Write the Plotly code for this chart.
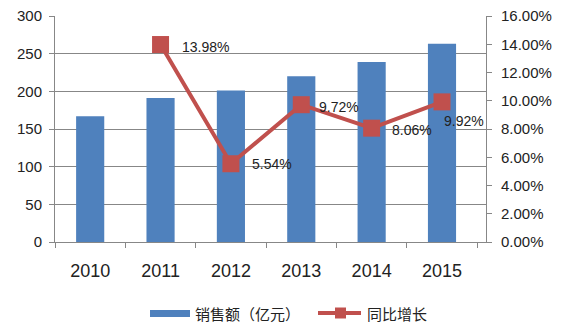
import plotly.graph_objects as go

# Annual sales (100M CNY) and year-on-year growth (%)
years = ["2010", "2011", "2012", "2013", "2014", "2015"]
sales = [167, 191, 201, 220, 239, 263]
growth_years = ["2011", "2012", "2013", "2014", "2015"]
growth = [13.98, 5.54, 9.72, 8.06, 9.92]
growth_labels = ["13.98%", "5.54%", "9.72%", "8.06%", "9.92%"]

left_ticks = [0, 50, 100, 150, 200, 250, 300]
right_ticks = [0, 2, 4, 6, 8, 10, 12, 14, 16]
right_tick_text = [f"{v:.2f}%" for v in right_ticks]

FONT = "Liberation Sans, Noto Sans CJK SC, sans-serif"
CJK = "Noto Sans CJK SC, sans-serif"
GRID = "#878787"
BLUE = "#4F81BD"
RED = "#C0504D"

W, H = 565, 327
ML, MR, MT, MB = 55, 79, 16, 85
PW, PH = W - ML - MR, H - MT - MB

# label offsets (pixels) relative to each growth marker
label_dx = [19, 19, 16, 18, 0]
label_dy = [-2, 0, -2, -2, -19]

fig = go.Figure()
fig.add_trace(go.Bar(
    x=years, y=sales, name="销售额（亿元）",
    marker=dict(color=BLUE, line=dict(width=0)),
    width=0.4,
))
fig.add_trace(go.Scatter(
    x=growth_years, y=growth, name="同比增长", yaxis="y2",
    mode="lines+markers",
    line=dict(color=RED, width=4),
    marker=dict(symbol="square", size=17, color=RED),
    cliponaxis=False,
))

# value labels; category axes take the category index for annotations
for yr, val, txt, dx, dy in zip(growth_years, growth, growth_labels, label_dx, label_dy):
    fig.add_annotation(
        x=years.index(yr), y=val, xref="x", yref="y2", text=txt, showarrow=False,
        xanchor="left", yanchor="middle", xshift=dx, yshift=dy,
        font=dict(size=14, color="#222222", family=FONT),
    )


def px_x(px):
    return (px - ML) / PW


def px_y(py):
    return (H - MB - py) / PH


# legend drawn below the plot
fig.add_shape(type="rect", xref="paper", yref="paper",
              x0=px_x(150), x1=px_x(190), y0=px_y(317), y1=px_y(310),
              fillcolor=BLUE, line=dict(width=0))
fig.add_annotation(x=px_x(193), y=px_y(313), xref="paper", yref="paper",
                   text="销售额（亿元）", showarrow=False, xanchor="left",
                   yanchor="middle", font=dict(size=15, family=CJK, color="#222222"))
fig.add_shape(type="line", xref="paper", yref="paper",
              x0=px_x(318), x1=px_x(361), y0=px_y(313), y1=px_y(313),
              line=dict(color=RED, width=4))
fig.add_shape(type="rect", xref="paper", yref="paper",
              x0=px_x(335), x1=px_x(346), y0=px_y(318.5), y1=px_y(307.5),
              fillcolor=RED, line=dict(width=0))
fig.add_annotation(x=px_x(365), y=px_y(313), xref="paper", yref="paper",
                   text="同比增长", showarrow=False, xanchor="left",
                   yanchor="middle", font=dict(size=15, family=CJK, color="#222222"))

fig.update_layout(
    width=W, height=H,
    margin=dict(l=ML, r=MR, t=MT, b=MB, autoexpand=False),
    paper_bgcolor="white", plot_bgcolor="white",
    font=dict(family=FONT, color="#222222"),
    showlegend=False,
    xaxis=dict(
        type="category", categoryorder="array", categoryarray=years,
        showline=True, linecolor=GRID, linewidth=1,
        ticks="outside", tickson="boundaries", ticklen=5, tickcolor=GRID,
        tickfont=dict(size=18), showgrid=False, ticklabelstandoff=12,
        automargin=False,
    ),
    yaxis=dict(
        range=[0, 300], tickvals=left_ticks,
        showline=True, linecolor=GRID, linewidth=1,
        ticks="outside", ticklen=5, tickcolor=GRID,
        showgrid=True, gridcolor=GRID, gridwidth=1,
        tickfont=dict(size=15), zeroline=False, ticklabelstandoff=4,
        automargin=False,
    ),
    yaxis2=dict(
        range=[0, 16], overlaying="y", side="right",
        tickvals=right_ticks, ticktext=right_tick_text,
        showline=True, linecolor=GRID, linewidth=1,
        ticks="outside", ticklen=5, tickcolor=GRID,
        showgrid=False, zeroline=False,
        tickfont=dict(size=15), ticklabelstandoff=6,
        automargin=False,
    ),
)

fig.write_html("out.html")
